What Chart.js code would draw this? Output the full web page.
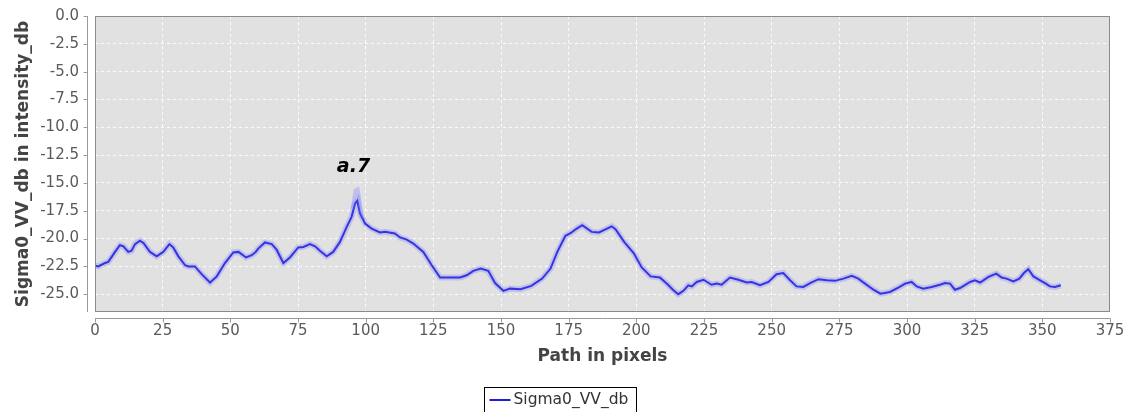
<!DOCTYPE html>
<html>
<head>
<meta charset="utf-8">
<script src="https://cdn.jsdelivr.net/npm/chart.js@4.4.0/dist/chart.umd.min.js"></script>
<style>
  html, body { margin: 0; padding: 0; background: #fff; }
  #wrap { width: 1130px; height: 412px; position: relative; }
</style>
</head>
<body>
<div id="wrap"><canvas id="profileChart"></canvas></div>
<script>
// profile values
const pathX = [0, 1.2, 3.7, 4.9, 7.4, 9.2, 10.5, 12.3, 13.5, 14.8, 16.6, 17.9, 20.3, 22.8, 25.2, 27.5, 28.9, 30.8, 33.3, 34.5,
  36.9, 39.4, 42.5, 45, 48, 51.1, 53, 55.8, 57.9, 59.4, 60.3, 62.8, 65.3, 67.1, 69.6, 72, 75.1, 77, 79.4, 81.3,
  83.1, 85.6, 88, 90.5, 93, 94.8, 96.1, 96.9, 97.9, 99.8, 102.2, 105.3, 107.1, 110.8, 112.7, 115.2, 117.6, 121.3, 124.4, 127.5,
  131.2, 134.9, 137.3, 139.8, 142.5, 145.3, 147.8, 150.9, 153.3, 157.2, 161.2, 165.2, 168.3, 170.8, 173.8, 175.8, 178, 180, 183.5, 186.2,
  188.4, 190.9, 192.3, 195.5, 199, 202, 205.3, 208.7, 211.5, 213.7, 215.5, 217.4, 219.2, 220.5, 222.3, 224.8, 227.8, 229.7, 231.5, 234.6,
  237.7, 240.8, 242.6, 245.7, 248.8, 251.8, 254.3, 256.8, 259.2, 261.7, 264.2, 267.3, 270.4, 273.4, 276.5, 279.6, 282, 284.5, 287.6, 290.2,
  293.7, 296.8, 299.3, 301.7, 303.6, 306, 309.1, 312.2, 314, 315.9, 317.7, 319.6, 323.3, 325.1, 327, 330.1, 333, 335, 336.8, 339.3,
  341.5, 343.2, 344.8, 346.7, 349.2, 351, 352.8, 354.7, 356.8];
const sigmaDb = [-22.45, -22.5, -22.2, -22.1, -21.2, -20.6, -20.7, -21.2, -21.1, -20.5, -20.2, -20.4, -21.2, -21.6, -21.2, -20.5, -20.8, -21.6, -22.4, -22.5,
  -22.5, -23.2, -23.95, -23.4, -22.2, -21.25, -21.2, -21.7, -21.5, -21.2, -20.9, -20.35, -20.5, -21.0, -22.2, -21.7, -20.8, -20.75, -20.5, -20.7,
  -21.1, -21.6, -21.2, -20.3, -18.95, -18.05, -16.85, -16.6, -17.75, -18.65, -19.1, -19.45, -19.4, -19.55, -19.9, -20.1, -20.45, -21.2, -22.4, -23.5,
  -23.5, -23.5, -23.3, -22.9, -22.7, -22.9, -24.0, -24.7, -24.5, -24.55, -24.25, -23.6, -22.7, -21.2, -19.75, -19.5, -19.1, -18.8, -19.4, -19.45,
  -19.2, -18.9, -19.15, -20.3, -21.3, -22.6, -23.4, -23.5, -24.1, -24.65, -25.0, -24.7, -24.2, -24.3, -23.9, -23.7, -24.15, -24.05, -24.15, -23.5,
  -23.7, -23.95, -23.9, -24.2, -23.9, -23.2, -23.1, -23.75, -24.3, -24.35, -24.0, -23.65, -23.75, -23.8, -23.6, -23.35, -23.6, -24.05, -24.6, -24.95,
  -24.8, -24.4, -24.05, -23.9, -24.3, -24.5, -24.35, -24.15, -24.0, -24.05, -24.6, -24.45, -23.9, -23.75, -23.95, -23.45, -23.15, -23.5, -23.6, -23.85,
  -23.6, -23.1, -22.75, -23.4, -23.75, -24.0, -24.3, -24.35, -24.2];

// light envelope above the peak
const peakBandX = [95.2, 96.3, 97.0, 97.6, 98.6];
const peakBandY = [-17.3, -15.7, -15.6, -16.4, -18.2];

const xTicks = [0, 25, 50, 75, 100, 125, 150, 175, 200, 225, 250, 275, 300, 325, 350, 375];
const yTicks = [0, -2.5, -5, -7.5, -10, -12.5, -15, -17.5, -20, -22.5, -25];

const seriesName = 'Sigma0_VV_db';
const noteText = 'a.7';
const notePos = { x: 95.5, y: -13.6 };

const lineColor = 'rgb(30, 30, 215)';
const font = '"DejaVu Sans", sans-serif';

const points = pathX.map((x, i) => ({ x: x, y: sigmaDb[i] }));
const bandPoints = peakBandX.map((x, i) => ({ x: x, y: peakBandY[i] }));

// plot frame, offset axis lines, annotation and boxed legend
const framePlugin = {
  id: 'frame',
  beforeDraw(chart) {
    const { ctx, chartArea: a } = chart;
    ctx.save();
    ctx.fillStyle = '#e1e1e1';
    ctx.fillRect(a.left, a.top, a.right - a.left, a.bottom - a.top);
    ctx.restore();
  },
  afterDraw(chart) {
    const { ctx, chartArea: a } = chart;
    const xs = chart.scales.x, ys = chart.scales.y;
    ctx.save();
    ctx.strokeStyle = '#8a8a8a';
    ctx.lineWidth = 1;
    ctx.strokeRect(a.left + 0.5, a.top + 0.5, a.right - a.left - 1, a.bottom - a.top - 1);

    // axis lines sit a few px off the plot
    const axX = a.left - 7.5, axY = a.bottom + 6.5;
    ctx.strokeStyle = '#9a9a9a';
    ctx.beginPath();
    ctx.moveTo(axX, a.top); ctx.lineTo(axX, a.bottom);
    ctx.moveTo(a.left, axY); ctx.lineTo(a.right, axY);
    yTicks.forEach(v => {
      const py = Math.round(ys.getPixelForValue(v)) + 0.5;
      ctx.moveTo(axX - 4, py); ctx.lineTo(axX, py);
    });
    xTicks.forEach(v => {
      const px = Math.round(xs.getPixelForValue(v)) + 0.5;
      ctx.moveTo(px, axY); ctx.lineTo(px, axY + 4);
    });
    ctx.stroke();

    // annotation
    ctx.fillStyle = '#000';
    ctx.font = 'italic bold 19px ' + font;
    ctx.textAlign = 'center';
    ctx.textBaseline = 'middle';
    ctx.fillText(noteText, xs.getPixelForValue(notePos.x), ys.getPixelForValue(notePos.y));

    // legend box
    const lx = 484.5, ly = 387.5, lw = 152, lh = 30;
    ctx.strokeStyle = '#000';
    ctx.strokeRect(lx, ly, lw, lh);
    ctx.strokeStyle = lineColor;
    ctx.lineWidth = 2;
    ctx.beginPath();
    ctx.moveTo(lx + 5, 400); ctx.lineTo(lx + 26, 400);
    ctx.stroke();
    ctx.fillStyle = '#333';
    ctx.font = '15.5px ' + font;
    ctx.textAlign = 'left';
    ctx.fillText(seriesName, lx + 29, 400);
    ctx.restore();
  }
};

const ctx = document.getElementById('profileChart').getContext('2d');
const profileChart = new Chart(ctx, {
  type: 'scatter',
  data: {
    datasets: [
      { label: 'glow', data: points, showLine: true, pointRadius: 0, borderColor: 'rgba(110, 110, 255, 0.28)', borderWidth: 6, tension: 0 },
      { label: 'peak', data: bandPoints, showLine: true, pointRadius: 0, borderColor: 'rgba(110, 110, 255, 0.3)', borderWidth: 4, tension: 0 },
      { label: seriesName, data: points, showLine: true, pointRadius: 0, borderColor: lineColor, borderWidth: 2, tension: 0 }
    ]
  },
  options: {
    responsive: true,
    maintainAspectRatio: false,
    animation: false,
    layout: { padding: { left: 0, top: 16, right: 20, bottom: 45 } },
    plugins: { legend: { display: false }, tooltip: { enabled: false } },
    scales: {
      x: {
        type: 'linear',
        min: 0,
        max: 375,
        afterBuildTicks: s => { s.ticks = xTicks.map(v => ({ value: v })); },
        afterFit: s => { s.height = 55; s.paddingLeft = 0; s.paddingRight = 0; },
        border: { display: false, dash: [3, 3] },
        grid: { color: 'rgba(255,255,255,0.85)', lineWidth: 1, drawTicks: false },
        ticks: { padding: 10, color: '#5a5a5a', font: { family: 'DejaVu Sans', size: 15 }, maxRotation: 0 },
        title: { display: true, text: 'Path in pixels', color: '#444', padding: 0, font: { family: 'DejaVu Sans', size: 17, weight: 'bold' } }
      },
      y: {
        min: -26.6,
        max: 0,
        afterBuildTicks: s => { s.ticks = yTicks.map(v => ({ value: v })); },
        afterFit: s => { s.width = 95; s.paddingTop = 0; s.paddingBottom = 0; },
        border: { display: false, dash: [3, 3] },
        grid: { color: 'rgba(255,255,255,0.85)', lineWidth: 1, drawTicks: false },
        ticks: { padding: 16, color: '#5a5a5a', font: { family: 'DejaVu Sans', size: 15 }, callback: v => v.toFixed(1) },
        title: { display: true, text: 'Sigma0_VV_db in intensity_db', color: '#444', padding: { top: 13, bottom: 0 }, font: { family: 'DejaVu Sans', size: 17, weight: 'bold' } }
      }
    }
  },
  plugins: [framePlugin]
});
</script>
</body>
</html>
